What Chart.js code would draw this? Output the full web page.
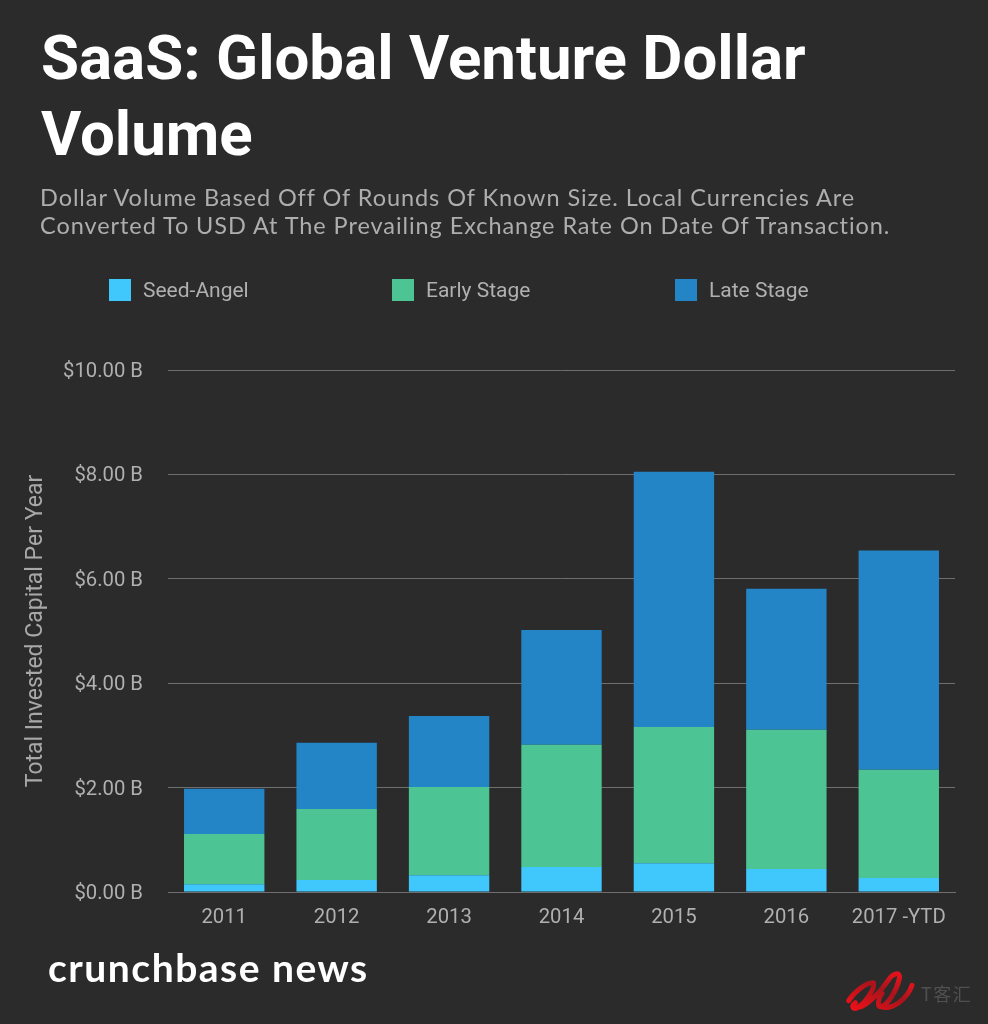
<!DOCTYPE html>
<html><head><meta charset="utf-8">
<script src="https://cdn.jsdelivr.net/npm/chart.js@4"></script>
<style>
html,body{margin:0;padding:0;background:#2b2b2b;}
#wrap{position:relative;width:988px;height:1024px;overflow:hidden;background:#2b2b2b;}
#c{position:absolute;left:0;top:0;}
.t{position:absolute;white-space:nowrap;}
#title{left:41px;top:20px;font:700 61.8px/76px Roboto,sans-serif;color:#fff;}
#sub{left:40px;top:183px;font:400 23.5px/28px Lato,sans-serif;color:#aeaeae;letter-spacing:0.93px;}
.sw{position:absolute;top:279px;width:22px;height:22px;}
.lg{position:absolute;top:278px;font:400 21px/24px Roboto,sans-serif;color:#b0b0b0;}
#brand{left:48px;top:943px;font:700 39px/48px Lato,sans-serif;color:#fff;letter-spacing:1.5px;}
#wm{left:921px;top:981px;font:400 18px/24px "Noto Sans CJK SC",sans-serif;color:#505050;letter-spacing:1.5px;}
#logo{position:absolute;left:838px;top:962px;}
</style></head><body>
<div id="wrap">
<canvas id="c" width="988" height="1024"></canvas>
<div class="t" id="title">SaaS: Global Venture Dollar<br>Volume</div>
<div class="t" id="sub">Dollar Volume Based Off Of Rounds Of Known Size. Local Currencies Are<br>Converted To USD At The Prevailing Exchange Rate On Date Of Transaction.</div>
<div id="legend"></div>
<div class="t" id="brand">crunchbase news</div>
<svg id="logo" width="80" height="60" viewBox="0 0 240 180"><defs><linearGradient id="g" x1="0" y1="1" x2="1" y2="0"><stop offset="0" stop-color="#f01018"/><stop offset="0.55" stop-color="#a8141c"/><stop offset="0.8" stop-color="#d8141c"/><stop offset="1" stop-color="#ee1018"/></linearGradient></defs><path d="M32 116C48 90 85 60 106 62C114 76 82 122 60 136C46 146 38 132 52 122M60 136C80 136 122 98 150 56C164 34 188 26 184 50C176 86 148 130 130 134C116 138 120 110 132 94M130 134C160 146 208 112 222 70" fill="none" stroke="url(#g)" stroke-width="15" stroke-linecap="round" stroke-linejoin="round"/></svg>
<div class="t" id="wm">T客汇</div>
</div>
<script>
const categories = ["2011","2012","2013","2014","2015","2016","2017 -YTD"];
const seedAngel = [0.15,0.23,0.32,0.48,0.55,0.44,0.27];
const earlyStage = [0.96,1.36,1.69,2.34,2.61,2.67,2.07];
const lateStage = [0.87,1.27,1.36,2.20,4.89,2.70,4.20];
const seriesNames = ["Seed-Angel","Early Stage","Late Stage"];
const seriesColors = ["#40c8fd","#4dc494","#2385c5"];
const legendX = [109,392,675];

const legendEl = document.getElementById('legend');
seriesNames.forEach((n,i)=>{
  const s=document.createElement('div');s.className='sw';s.style.left=legendX[i]+'px';s.style.background=seriesColors[i];legendEl.appendChild(s);
  const l=document.createElement('div');l.className='lg';l.style.left=(legendX[i]+34)+'px';l.textContent=n;legendEl.appendChild(l);
});
const seriesValues=[seedAngel,earlyStage,lateStage];
new Chart(document.getElementById('c'),{
  type:'bar',
  data:{labels:categories,datasets:seriesNames.map((n,i)=>({label:n,data:seriesValues[i],backgroundColor:seriesColors[i],borderWidth:0,categoryPercentage:0.715,barPercentage:1}))},
  options:{
    responsive:false,animation:false,devicePixelRatio:1,
    layout:{padding:{top:370,right:33,left:0,bottom:0}},
    plugins:{legend:{display:false},tooltip:{enabled:false}},
    scales:{
      x:{stacked:true,
        grid:{display:false,drawTicks:false},
        border:{color:'#6e6e6e',width:1},
        ticks:{color:'#b0b0b0',font:{family:'Roboto',size:20.3},padding:14,maxRotation:0,autoSkip:false},
        afterFit(s){s.height=132;}
      },
      y:{stacked:true,min:0,max:10,
        grid:{color:'#6e6e6e',lineWidth:1,drawTicks:false},
        border:{display:false},
        ticks:{stepSize:2,color:'#b0b0b0',font:{family:'Roboto',size:20.3,lineHeight:'4px'},padding:25,callback:v=>['','$'+v.toFixed(2)+' B']},
        title:{display:true,text:'Total Invested Capital Per Year',color:'#a8a8a8',font:{family:'Roboto',size:23},padding:{top:22,bottom:0}},
        afterFit(s){s.width=168;}
      }
    }
  }
});
</script>
</body></html>
